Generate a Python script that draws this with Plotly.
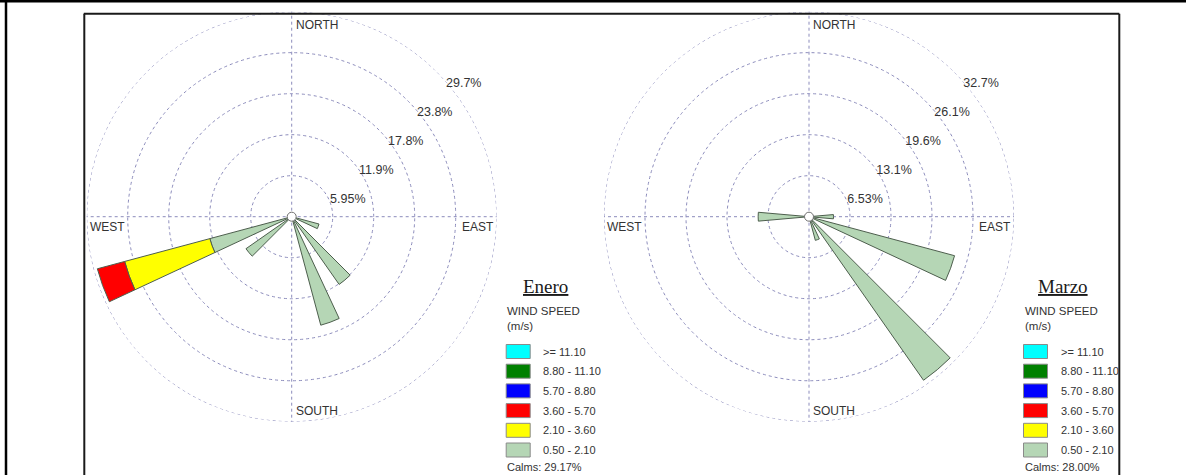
import plotly.graph_objects as go

W, H = 1186, 475

# Wind directions (degrees, clockwise from north) and frequency (%) per speed class
enero_dirs = [110, 140, 160, 230, 250]
enero_050_210 = [4.1, 12.0, 16.3, 8.1, 12.3]
enero_210_360 = [0.0, 0.0, 0.0, 0.0, 12.8]
enero_360_570 = [0.0, 0.0, 0.0, 0.0, 4.1]

marzo_dirs = [90, 110, 140, 160, 270]
marzo_050_210 = [3.9, 24.0, 31.8, 3.9, 8.1]

enero_rings = [5.95, 11.9, 17.85, 23.8, 29.75]
enero_ring_labels = ["5.95%", "11.9%", "17.8%", "23.8%", "29.7%"]
marzo_rings = [6.53, 13.06, 19.59, 26.12, 32.65]
marzo_ring_labels = ["6.53%", "13.1%", "19.6%", "26.1%", "32.7%"]

speed_classes = [">= 11.10", "8.80 - 11.10", "5.70 - 8.80",
                 "3.60 - 5.70", "2.10 - 3.60", "0.50 - 2.10"]
class_colors = ["#00ffff", "#008000", "#0000ff", "#ff0000", "#ffff00", "#b5d6b5"]

months = ["Enero", "Marzo"]
calms_text = ["Calms: 29.17%", "Calms: 28.00%"]
compass = ["NORTH", "EAST", "SOUTH", "WEST"]
compass_theta = [0, 90, 180, 270]

SANS = "Liberation Sans, Arial, sans-serif"
SERIF = "Liberation Serif, Times New Roman, serif"
GRID = "#8c8cbc"
TEXT = "#333333"

# rose geometry in pixels
centers = [(291.7, 216.7), (809.0, 216.7)]
RADIUS = 205.0


def px(x):
    return x / W


def py(y):
    return 1 - y / H


def note(x, y, text, size=11, family=SANS, xa="left", ya="middle", color=TEXT, align="left"):
    fig.add_annotation(x=px(x), y=py(y), xref="paper", yref="paper", text=text,
                       showarrow=False, font=dict(family=family, size=size, color=color),
                       xanchor=xa, yanchor=ya, align=align)


fig = go.Figure()

roses = [
    (enero_dirs, [(enero_050_210, 5), (enero_210_360, 4), (enero_360_570, 3)],
     enero_rings, enero_ring_labels),
    (marzo_dirs, [(marzo_050_210, 5)], marzo_rings, marzo_ring_labels),
]

outer_theta = list(range(0, 361, 2))

for i, (dirs, layers, rings, ring_labels) in enumerate(roses):
    subplot = "polar" if i == 0 else "polar2"
    # outermost dotted ring
    fig.add_trace(go.Scatterpolar(
        r=[rings[-1]] * len(outer_theta), theta=outer_theta, mode="lines",
        line=dict(color=GRID, width=1, dash="dot"), subplot=subplot,
        showlegend=False, hoverinfo="skip", cliponaxis=False,
    ))
    for values, ci in layers:
        th = [d for d, v in zip(dirs, values) if v > 0]
        rr = [v for v in values if v > 0]
        fig.add_trace(go.Barpolar(
            r=rr, theta=th, width=10, subplot=subplot,
            marker=dict(color=class_colors[ci], line=dict(color="#4d5e4d", width=1)),
            name=speed_classes[ci], showlegend=False, hoverinfo="skip",
        ))
    # calm circle at the centre
    fig.add_trace(go.Scatterpolar(
        r=[0], theta=[0], mode="markers", subplot=subplot,
        marker=dict(size=9, color="white", line=dict(color="#707070", width=1)),
        showlegend=False, hoverinfo="skip",
    ))

    cx, cy = centers[i]
    polar = dict(
        domain=dict(x=[px(cx - RADIUS), px(cx + RADIUS)],
                    y=[py(cy + RADIUS), py(cy - RADIUS)]),
        bgcolor="white",
        barmode="stack",
        radialaxis=dict(
            range=[0, rings[-1]], tickvals=rings, ticktext=ring_labels,
            showline=False, ticks="outside", ticklen=4, tickcolor="rgba(0,0,0,0)",
            angle=45, side="clockwise", tickangle=45,
            tickfont=dict(family=SANS, size=12.5, color=TEXT),
            showgrid=True, gridcolor=GRID, gridwidth=1, griddash="dot",
        ),
        angularaxis=dict(
            rotation=90, direction="clockwise", tickvals=compass_theta,
            showticklabels=False, ticks="", showline=False,
            showgrid=True, gridcolor=GRID, gridwidth=1, griddash="dot",
        ),
    )
    fig.update_layout(**{subplot: polar})

    # compass words just inside the outer ring
    note(cx + 2, cy - RADIUS + 13, compass[0], size=12)
    note(cx + RADIUS - 1, cy + 10.5, compass[1], size=12, xa="right")
    note(cx + 2, cy + RADIUS - 10.5, compass[2], size=12)
    note(cx - RADIUS + 1, cy + 10.5, compass[3], size=12)

    # speed-class key beside each rose
    kx = cx + 214.5
    note(kx + 39, 286.5, "<u>%s</u>" % months[i], size=19, family=SERIF,
         xa="center", color="#1a1a1a")
    note(kx - 1, 303, "WIND SPEED<br>(m/s)", size=11.5, ya="top")
    for k, (lab, col) in enumerate(zip(speed_classes, class_colors)):
        top = 344.5 + k * 19.7
        fig.add_shape(type="rect", xref="paper", yref="paper",
                      x0=px(kx), x1=px(kx + 24), y0=py(top + 14), y1=py(top),
                      fillcolor=col, line=dict(color="#8a8a8a", width=1))
        note(kx + 35, top + 7, lab, size=11)
    note(kx - 1, 467, calms_text[i], size=11)

# page frames
frame = [
    dict(x0=0, x1=W, y0=1, y1=1, w=3, c="black"),
    dict(x0=6, x1=6, y0=0, y1=H, w=2.5, c="black"),
    dict(x0=83.8, x1=1119.3, y0=13.8, y1=13.8, w=2, c="#1a1a1a"),
    dict(x0=84.3, x1=84.3, y0=13.8, y1=H, w=2, c="#1a1a1a"),
    dict(x0=1119.3, x1=1119.3, y0=13.8, y1=H, w=2, c="#1a1a1a"),
]
for f in frame:
    fig.add_shape(type="line", xref="paper", yref="paper",
                  x0=px(f["x0"]), x1=px(f["x1"]), y0=py(f["y0"]), y1=py(f["y1"]),
                  line=dict(color=f["c"], width=f["w"]))

fig.update_layout(
    width=W, height=H, margin=dict(l=0, r=0, t=0, b=0),
    paper_bgcolor="white", plot_bgcolor="white", showlegend=False,
)

fig.write_html("out.html")
